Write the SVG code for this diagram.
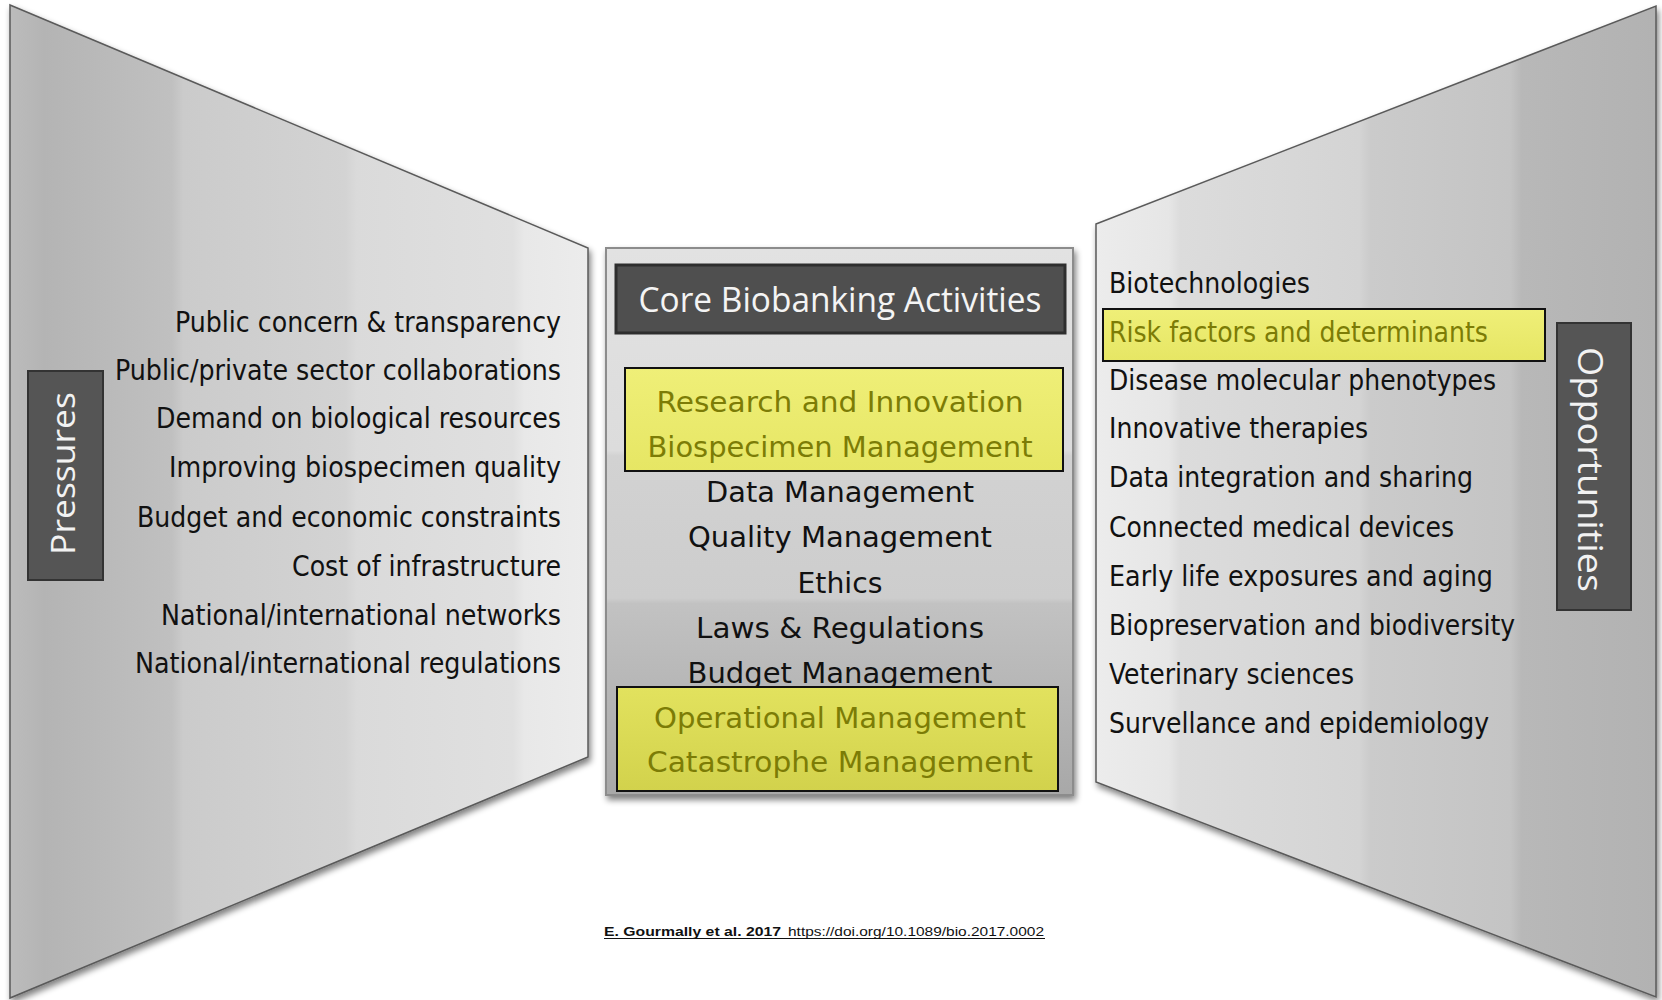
<svg xmlns="http://www.w3.org/2000/svg" width="1662" height="1000" viewBox="0 0 1662 1000">
<defs>
<linearGradient id="gLeft" gradientUnits="userSpaceOnUse" x1="10" y1="0" x2="588" y2="0">
<stop offset="0" stop-color="#bcbcbc"/>
<stop offset="0.06" stop-color="#b4b4b4"/>
<stop offset="0.28" stop-color="#c0c0c0"/>
<stop offset="0.3" stop-color="#cbcbcb"/>
<stop offset="0.58" stop-color="#d3d3d3"/>
<stop offset="0.6" stop-color="#dadada"/>
<stop offset="0.87" stop-color="#e0e0e0"/>
<stop offset="0.89" stop-color="#e8e8e8"/>
<stop offset="1" stop-color="#ececec"/>
</linearGradient>
<linearGradient id="gRight" gradientUnits="userSpaceOnUse" x1="1096" y1="0" x2="1656" y2="0">
<stop offset="0" stop-color="#ececec"/>
<stop offset="0.13" stop-color="#e6e6e6"/>
<stop offset="0.15" stop-color="#dcdcdc"/>
<stop offset="0.47" stop-color="#d4d4d4"/>
<stop offset="0.49" stop-color="#cbcbcb"/>
<stop offset="0.74" stop-color="#c4c4c4"/>
<stop offset="0.76" stop-color="#b8b8b8"/>
<stop offset="1" stop-color="#b2b2b2"/>
</linearGradient>
<linearGradient id="gCenter" x1="0" y1="0" x2="0" y2="1">
<stop offset="0" stop-color="#e2e2e2"/>
<stop offset="0.37" stop-color="#dcdcdc"/>
<stop offset="0.38" stop-color="#d2d2d2"/>
<stop offset="0.64" stop-color="#cdcdcd"/>
<stop offset="0.65" stop-color="#c2c2c2"/>
<stop offset="1" stop-color="#a8a8a8"/>
</linearGradient>
<linearGradient id="gY1" x1="0" y1="0" x2="0" y2="1">
<stop offset="0" stop-color="#efef78"/>
<stop offset="1" stop-color="#e6e664"/>
</linearGradient>
<linearGradient id="gY2" x1="0" y1="0" x2="0" y2="1">
<stop offset="0" stop-color="#e2e25e"/>
<stop offset="1" stop-color="#d2d24c"/>
</linearGradient>
<filter id="sh" x="-5%" y="-5%" width="110%" height="112%">
<feGaussianBlur in="SourceAlpha" stdDeviation="3"/>
<feOffset dx="2" dy="4" result="b"/>
<feComponentTransfer><feFuncA type="linear" slope="0.5"/></feComponentTransfer>
<feMerge><feMergeNode/><feMergeNode in="SourceGraphic"/></feMerge>
</filter>
</defs>
<style>
.panel{stroke:#5a5a5a;stroke-width:1.5}
.lbl{fill:#555555;stroke:#333333;stroke-width:2}
.lbltxt{font-family:"Open Sans","Noto Sans",sans-serif;fill:#f2f2f2;text-anchor:middle}
.body{font-family:"DejaVu Sans Condensed","DejaVu Sans",sans-serif;font-size:28px;fill:#111111}
.ctr{font-family:"DejaVu Sans",sans-serif;font-size:28px;fill:#111111;text-anchor:middle}
.ol{fill:#7c7c06}
.ybox{stroke:#111111;stroke-width:2}
.cite{font-family:"Liberation Sans",Arial,sans-serif;font-size:13px;fill:#111111}
</style>

<g id="pressures-panel">
<polygon class="panel" points="10,5 588,248 588,757 10,998" fill="url(#gLeft)" filter="url(#sh)"/>
</g>
<g id="opportunities-panel">
<polygon class="panel" points="1096,224 1656,6 1656,997 1096,782" fill="url(#gRight)" filter="url(#sh)"/>
</g>

<g id="pressures-label">
<rect class="lbl" x="28" y="371" width="75" height="209"/>
<text class="lbltxt" font-size="33" transform="translate(75,473.5) rotate(-90)" x="0" y="0" textLength="163" lengthAdjust="spacingAndGlyphs">Pressures</text>
</g>

<g id="pressures-list">
<text class="body" text-anchor="end" x="561" y="332" textLength="386" lengthAdjust="spacingAndGlyphs">Public concern &amp; transparency</text>
<text class="body" text-anchor="end" x="561" y="380" textLength="446" lengthAdjust="spacingAndGlyphs">Public/private sector collaborations</text>
<text class="body" text-anchor="end" x="561" y="428" textLength="405" lengthAdjust="spacingAndGlyphs">Demand on biological resources</text>
<text class="body" text-anchor="end" x="561" y="477" textLength="392" lengthAdjust="spacingAndGlyphs">Improving biospecimen quality</text>
<text class="body" text-anchor="end" x="561" y="527" textLength="424" lengthAdjust="spacingAndGlyphs">Budget and economic constraints</text>
<text class="body" text-anchor="end" x="561" y="576" textLength="269" lengthAdjust="spacingAndGlyphs">Cost of infrastructure</text>
<text class="body" text-anchor="end" x="561" y="625" textLength="400" lengthAdjust="spacingAndGlyphs">National/international networks</text>
<text class="body" text-anchor="end" x="561" y="673" textLength="426" lengthAdjust="spacingAndGlyphs">National/international regulations</text>
</g>

<g id="core-activities">
<rect x="606" y="248" width="467" height="547" fill="url(#gCenter)" stroke="#8c8c8c" stroke-width="2" filter="url(#sh)"/>
<rect x="616" y="265" width="449" height="68" fill="#4f4f4f" stroke="#2e2e2e" stroke-width="3"/>
<text font-family="'Open Sans','Noto Sans',sans-serif" font-size="34" fill="#f4f4f4" text-anchor="middle" x="840" y="312" textLength="403" lengthAdjust="spacingAndGlyphs">Core Biobanking Activities</text>
<rect class="ybox" x="625" y="368" width="438" height="103" fill="url(#gY1)"/>
<text class="ctr ol" x="840" y="412" textLength="367" lengthAdjust="spacingAndGlyphs">Research  and Innovation</text>
<text class="ctr ol" x="840" y="457" textLength="385" lengthAdjust="spacingAndGlyphs">Biospecimen  Management</text>
<text class="ctr" x="840" y="502" textLength="268" lengthAdjust="spacingAndGlyphs">Data Management</text>
<text class="ctr" x="840" y="547" textLength="304" lengthAdjust="spacingAndGlyphs">Quality Management</text>
<text class="ctr" x="840" y="593" textLength="85" lengthAdjust="spacingAndGlyphs">Ethics</text>
<text class="ctr" x="840" y="638" textLength="288" lengthAdjust="spacingAndGlyphs">Laws &amp; Regulations</text>
<text class="ctr" x="840" y="683" textLength="305" lengthAdjust="spacingAndGlyphs">Budget Management</text>
<rect class="ybox" x="617" y="687" width="441" height="104" fill="url(#gY2)"/>
<text class="ctr ol" x="840" y="728" textLength="372" lengthAdjust="spacingAndGlyphs">Operational Management</text>
<text class="ctr ol" x="840" y="772" textLength="386" lengthAdjust="spacingAndGlyphs">Catastrophe Management</text>
</g>

<g id="opportunities-list">
<rect class="ybox" x="1103" y="309" width="442" height="52" fill="url(#gY1)"/>
<text class="body" x="1109" y="293" textLength="201" lengthAdjust="spacingAndGlyphs">Biotechnologies</text>
<text class="body ol" x="1109" y="342" textLength="379" lengthAdjust="spacingAndGlyphs">Risk factors and determinants</text>
<text class="body" x="1109" y="390" textLength="387" lengthAdjust="spacingAndGlyphs">Disease molecular phenotypes</text>
<text class="body" x="1109" y="438" textLength="259" lengthAdjust="spacingAndGlyphs">Innovative therapies</text>
<text class="body" x="1109" y="487" textLength="364" lengthAdjust="spacingAndGlyphs">Data integration and sharing</text>
<text class="body" x="1109" y="537" textLength="345" lengthAdjust="spacingAndGlyphs">Connected medical devices</text>
<text class="body" x="1109" y="586" textLength="384" lengthAdjust="spacingAndGlyphs">Early life exposures and aging</text>
<text class="body" x="1109" y="635" textLength="406" lengthAdjust="spacingAndGlyphs">Biopreservation and biodiversity</text>
<text class="body" x="1109" y="684" textLength="245" lengthAdjust="spacingAndGlyphs">Veterinary sciences</text>
<text class="body" x="1109" y="733" textLength="380" lengthAdjust="spacingAndGlyphs">Survellance and epidemiology</text>
</g>

<g id="opportunities-label">
<rect class="lbl" x="1557" y="323" width="74" height="287"/>
<text class="lbltxt" font-size="34" transform="translate(1578,469.5) rotate(90)" x="0" y="0" textLength="245" lengthAdjust="spacingAndGlyphs">Opportunities</text>
</g>

<g id="connectors"></g>

<g id="citation">
<text class="cite" font-weight="bold" x="604" y="936" textLength="177" lengthAdjust="spacingAndGlyphs">E. Gourmally et al. 2017</text>
<text class="cite" x="788" y="936" textLength="256" lengthAdjust="spacingAndGlyphs">https://doi.org/10.1089/bio.2017.0002</text>
<line x1="604" y1="938.5" x2="1045" y2="938.5" stroke="#111111" stroke-width="1.2"/>
</g>
</svg>
